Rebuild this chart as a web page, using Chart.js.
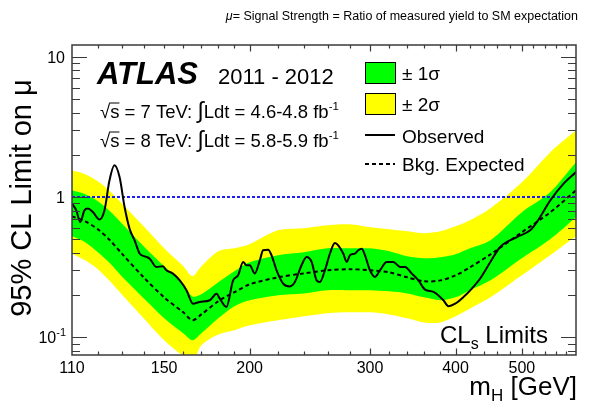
<!DOCTYPE html>
<html><head><meta charset="utf-8">
<script src="https://cdn.jsdelivr.net/npm/chart.js@4/dist/chart.umd.min.js"></script>
<style>html,body{margin:0;padding:0;background:#fff}#wrap{width:608px;height:406px}</style>
</head><body><div id="wrap"><canvas id="c" width="608" height="406"></canvas></div>
<script>
// ---- data ----
const bandMass = [110,115,120,125,130,140,150,160,165,170,180,190,200,220,240,260,280,300,320,340,360,380,400,420,450,500,550,600];
const expected = [0.729,0.671,0.589,0.492,0.397,0.268,0.193,0.151,0.1325,0.146,0.181,0.210,0.239,0.268,0.286,0.301,0.306,0.301,0.291,0.268,0.251,0.255,0.277,0.316,0.391,0.561,0.778,1.116];
const plus1 = [1.116,1.045,0.932,0.791,0.650,0.446,0.321,0.239,0.196,0.203,0.247,0.296,0.343,0.385,0.404,0.431,0.431,0.431,0.411,0.378,0.366,0.372,0.391,0.431,0.492,0.778,1.080,1.766];
const minus1 = [0.525,0.476,0.404,0.337,0.273,0.190,0.137,0.107,0.0955,0.107,0.137,0.167,0.184,0.200,0.206,0.217,0.217,0.217,0.213,0.206,0.193,0.184,0.193,0.217,0.255,0.366,0.500,0.717];
const plus2 = [1.549,1.451,1.293,1.098,0.902,0.619,0.431,0.321,0.273,0.321,0.411,0.431,0.461,0.579,0.599,0.629,0.639,0.609,0.589,0.570,0.552,0.570,0.619,0.683,0.831,1.272,2.080,2.984];
const minus2 = [0.397,0.354,0.306,0.251,0.203,0.137,0.0955,0.0735,0.0666,0.088,0.105,0.1125,0.122,0.1325,0.1416,0.149,0.151,0.151,0.146,0.137,0.128,0.128,0.1416,0.161,0.193,0.277,0.385,0.525];
const obsMass = [110,111.6,113.1,114.7,116.0,118.0,120.7,122.7,124.8,126.9,129.1,131.3,133.5,135.8,138.1,140.5,142.9,146.1,149.4,151.1,154.5,158.1,161.7,165.3,169.1,174.9,178.9,180.9,185.0,189.2,192.4,195.7,197.9,200.1,203.5,207.0,209.3,212.9,215.3,219.0,223.9,229.0,232.9,238.2,242.3,246.4,250.6,253.4,257.7,262.1,266.5,269.5,274.1,277.3,280.4,285.1,288.3,291.7,294.9,299.9,305.0,310.2,317.3,324.4,331.8,337.5,345.2,353.0,361.0,371.3,384.0,390.5,399.5,410.8,422.6,434.6,449.5,464.9,491.9,514.3,526.0,550.3,575.5,600];
const observed = [0.90,0.804,0.664,0.804,0.827,0.782,0.691,0.804,1.315,1.681,1.388,0.849,0.596,0.492,0.396,0.378,0.364,0.318,0.321,0.301,0.285,0.255,0.217,0.174,0.179,0.184,0.205,0.189,0.165,0.255,0.277,0.345,0.327,0.327,0.285,0.354,0.418,0.422,0.385,0.301,0.242,0.231,0.248,0.327,0.374,0.345,0.255,0.248,0.301,0.396,0.471,0.453,0.396,0.345,0.385,0.396,0.418,0.429,0.385,0.301,0.270,0.301,0.345,0.345,0.318,0.318,0.285,0.255,0.219,0.211,0.184,0.167,0.174,0.194,0.223,0.263,0.343,0.441,0.519,0.579,0.664,0.947,1.245,1.506];
const muLine = [1, 1];
const xRange = [110, 600];
const yRange = [0.075, 12.1];
const xTickLabels = [110, 150, 200, 300, 400, 500];
const xMinorTicks = [120,130,140,150,160,170,180,190,220,240,260,280,320,340,360,380,420,440,460,480,520,540,560,580];
const xMajorTicks = [200, 300, 400, 500];
const yMajorTicks = [0.1, 1, 10];
const yMinorTicks = [0.08,0.09,0.2,0.3,0.4,0.5,0.6,0.7,0.8,0.9,2,3,4,5,6,7,8,9];

const FONT = '"Liberation Sans", Arial, Helvetica, sans-serif';
const pts = (xs, ys) => xs.map((x, i) => ({x: x, y: ys[i]}));

function fnt(r) { return (r.style || '') + ' ' + r.size + 'px ' + (r.family || FONT); }
function rich(ctx, runs, x, y, align) {
  let w = 0;
  runs.forEach(r => { ctx.font = fnt(r); r.w = ctx.measureText(r.t).width; w += r.w; });
  let cx = align === 'right' ? x - w : align === 'center' ? x - w / 2 : x;
  ctx.textAlign = 'left'; ctx.textBaseline = 'alphabetic'; ctx.fillStyle = '#000';
  runs.forEach(r => { ctx.font = fnt(r); ctx.fillText(r.t, cx, y + (r.dy || 0)); r.x = cx; cx += r.w; });
  return runs;
}

const decor = {
  id: 'decor',
  afterDraw(chart) {
    const ctx = chart.ctx, xs = chart.scales.x, ys = chart.scales.y, a = chart.chartArea;
    ctx.save();
    // frame
    ctx.strokeStyle = '#3a3a3a'; ctx.lineWidth = 1.5;
    ctx.strokeRect(a.left, a.top, a.right - a.left, a.bottom - a.top);
    // x ticks (inward, bottom and top)
    ctx.lineWidth = 1.2;
    const xt = (v, len) => {
      const p = Math.round(xs.getPixelForValue(v)) + 0.5;
      ctx.beginPath(); ctx.moveTo(p, a.bottom); ctx.lineTo(p, a.bottom - len);
      ctx.moveTo(p, a.top); ctx.lineTo(p, a.top + len); ctx.stroke();
    };
    xMinorTicks.forEach(v => xt(v, 3.5));
    xMajorTicks.forEach(v => xt(v, 6.5));
    const yt = (v, len) => {
      const p = Math.round(ys.getPixelForValue(v)) + 0.5;
      ctx.beginPath(); ctx.moveTo(a.left, p); ctx.lineTo(a.left + len, p);
      ctx.moveTo(a.right, p); ctx.lineTo(a.right - len, p); ctx.stroke();
    };
    yMinorTicks.forEach(v => yt(v, 8));
    yMajorTicks.forEach(v => yt(v, 15));
    // x tick labels
    ctx.fillStyle = '#000';
    xTickLabels.forEach(v => {
      ctx.font = '16px ' + FONT; ctx.textAlign = 'center'; ctx.textBaseline = 'alphabetic';
      ctx.fillText(String(v), xs.getPixelForValue(v), 373);
    });
    // y tick labels
    yMajorTicks.forEach(v => {
      const p = ys.getPixelForValue(v) + 6;
      if (v === 0.1) rich(ctx, [{t: '10', size: 16}, {t: '-1', size: 11, dy: -7}], 66, p, 'right');
      else rich(ctx, [{t: String(v), size: 16}], 65, p, 'right');
    });
    // title
    rich(ctx, [{t: 'μ', size: 12.5, style: 'italic'}, {t: '= Signal Strength = Ratio of measured yield to SM expectation', size: 12.5}], 578, 20, 'right');
    // y title
    ctx.save(); ctx.translate(31, 198); ctx.rotate(-Math.PI / 2);
    rich(ctx, [{t: '95% CL Limit on μ', size: 29}], 0, 0, 'center');
    ctx.restore();
    // x title
    rich(ctx, [{t: 'm', size: 26}, {t: 'H', size: 17, dy: 6}, {t: ' [GeV]', size: 26}], 577, 395, 'right');
    // ATLAS
    rich(ctx, [{t: 'ATLAS', size: 31, style: 'italic bold'}], 97, 84, 'left');
    rich(ctx, [{t: '2011 - 2012', size: 22}], 218, 84, 'left');
    // sqrt(s) lines
    const sq = (y, e, lum) => {
      const r = rich(ctx, [{t: '√', size: 18.5}, {t: 's = ' + e + ' TeV: ', size: 18.5}, {t: '∫', size: 23}, {t: 'Ldt = ' + lum + ' fb', size: 18.5}, {t: '-1', size: 11.5, dy: -8}], 100, y, 'left');
      ctx.font = '18.5px ' + FONT; const sw = ctx.measureText('s').width;
      ctx.strokeStyle = '#000'; ctx.lineWidth = 1;
      ctx.beginPath(); ctx.moveTo(r[0].x + r[0].w - 1, y - 15); ctx.lineTo(r[1].x + sw, y - 15); ctx.stroke();
    };
    sq(118, '7', '4.6-4.8');
    sq(147, '8', '5.8-5.9');
    // legend
    ctx.lineWidth = 1; ctx.strokeStyle = '#000';
    ctx.fillStyle = '#00ff00'; ctx.fillRect(365, 62, 30, 21); ctx.strokeRect(365.5, 62.5, 30, 21);
    ctx.fillStyle = '#ffff00'; ctx.fillRect(365, 93, 30, 21); ctx.strokeRect(365.5, 93.5, 30, 21);
    ctx.lineWidth = 2;
    ctx.beginPath(); ctx.moveTo(365, 135); ctx.lineTo(395, 135); ctx.stroke();
    ctx.setLineDash([4, 3]);
    ctx.beginPath(); ctx.moveTo(365, 164); ctx.lineTo(395, 164); ctx.stroke();
    ctx.setLineDash([]);
    rich(ctx, [{t: '± 1σ', size: 19}], 402, 80, 'left');
    rich(ctx, [{t: '± 2σ', size: 19}], 402, 111, 'left');
    rich(ctx, [{t: 'Observed', size: 19}], 402, 143, 'left');
    rich(ctx, [{t: 'Bkg. Expected', size: 19}], 402, 171, 'left');
    // CLs Limits
    rich(ctx, [{t: 'CL', size: 24}, {t: 's', size: 16, dy: 6}, {t: ' Limits', size: 24}], 440, 343, 'left');
    ctx.restore();
  }
};

new Chart(document.getElementById('c').getContext('2d'), {
  type: 'line',
  data: {datasets: [
    {label: 'Observed', data: pts(obsMass, observed), borderColor: '#000', borderWidth: 2, pointRadius: 0, cubicInterpolationMode: 'monotone', fill: false, order: 0},
    {label: 'Bkg. Expected', data: pts(bandMass, expected), borderColor: '#000', borderWidth: 2, borderDash: [4, 3], pointRadius: 0, tension: 0.3, fill: false, order: 1},
    {label: 'mu = 1', data: pts(xRange, muLine), borderColor: '#1c1cf0', borderWidth: 2, borderDash: [3, 2], pointRadius: 0, fill: false, order: 2},
    {label: '+1 sigma', data: pts(bandMass, plus1), borderWidth: 0, borderColor: 'rgba(0,0,0,0)', backgroundColor: '#00ff00', fill: '+1', pointRadius: 0, tension: 0.3, order: 3},
    {label: '-1 sigma', data: pts(bandMass, minus1), borderWidth: 0, borderColor: 'rgba(0,0,0,0)', fill: false, pointRadius: 0, tension: 0.3, order: 4},
    {label: '+2 sigma', data: pts(bandMass, plus2), borderWidth: 0, borderColor: 'rgba(0,0,0,0)', backgroundColor: '#ffff00', fill: '+1', pointRadius: 0, tension: 0.3, order: 5},
    {label: '-2 sigma', data: pts(bandMass, minus2), borderWidth: 0, borderColor: 'rgba(0,0,0,0)', fill: false, pointRadius: 0, tension: 0.3, order: 6}
  ]},
  options: {
    responsive: false, animation: false, devicePixelRatio: 1,
    layout: {padding: {left: 0, top: 45, right: 32, bottom: 0}},
    plugins: {legend: {display: false}, tooltip: {enabled: false}},
    scales: {
      x: {type: 'logarithmic', min: xRange[0], max: xRange[1], grid: {display: false}, border: {display: false}, ticks: {display: false}, afterFit(s) { s.height = 51; }},
      y: {type: 'logarithmic', min: yRange[0], max: yRange[1], grid: {display: false}, border: {display: false}, ticks: {display: false}, afterFit(s) { s.width = 72; }}
    }
  },
  plugins: [decor]
});
</script>
</body></html>
